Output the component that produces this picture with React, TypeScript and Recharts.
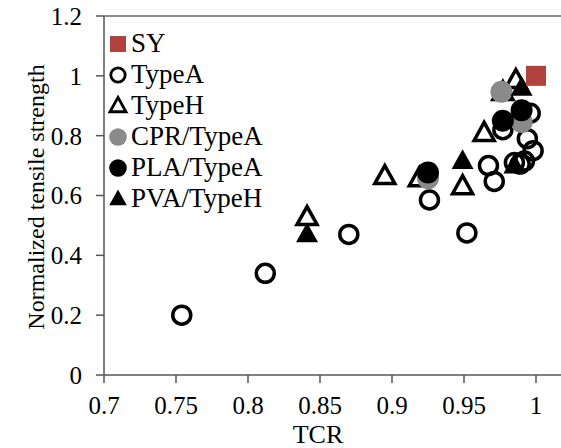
import { ScatterChart, Scatter, XAxis, YAxis, ReferenceLine, Legend } from "recharts"

const FONT = "'Liberation Serif', 'Times New Roman', serif"
const SY_RED = "#b3423f"
const CPR_GRAY = "#8a8a8a"
const AXIS = "#555555"

const xTicks = [0.7, 0.75, 0.8, 0.85, 0.9, 0.95, 1]
const yTicks = [0, 0.2, 0.4, 0.6, 0.8, 1, 1.2]

const typeA = [
  { tcr: 0.754, strength: 0.2 },
  { tcr: 0.812, strength: 0.34 },
  { tcr: 0.87, strength: 0.47 },
  { tcr: 0.926, strength: 0.585 },
  { tcr: 0.952, strength: 0.475 },
  { tcr: 0.967, strength: 0.7 },
  { tcr: 0.971, strength: 0.647 },
  { tcr: 0.977, strength: 0.82 },
  { tcr: 0.996, strength: 0.875 },
  { tcr: 0.994, strength: 0.79 },
  { tcr: 0.998, strength: 0.75 },
  { tcr: 0.992, strength: 0.715 },
  { tcr: 0.985, strength: 0.71 },
  { tcr: 0.989, strength: 0.705 },
]
const typeH = [
  { tcr: 0.841, strength: 0.527 },
  { tcr: 0.895, strength: 0.664 },
  { tcr: 0.919, strength: 0.657 },
  { tcr: 0.949, strength: 0.63 },
  { tcr: 0.964, strength: 0.808 },
  { tcr: 0.977, strength: 0.945 },
  { tcr: 0.986, strength: 0.985 },
]
const cprTypeA = [
  { tcr: 0.925, strength: 0.658 },
  { tcr: 0.976, strength: 0.947 },
  { tcr: 0.99, strength: 0.846 },
]
const plaTypeA = [
  { tcr: 0.925, strength: 0.677 },
  { tcr: 0.977, strength: 0.85 },
  { tcr: 0.99, strength: 0.885 },
]
const pvaTypeH = [
  { tcr: 0.841, strength: 0.47 },
  { tcr: 0.949, strength: 0.715 },
  { tcr: 0.99, strength: 0.96 },
  { tcr: 0.985, strength: 0.7 },
]
const sy = [{ tcr: 1.0, strength: 1.0 }]

const legendItems = [
  { name: "SY", kind: "square" },
  { name: "TypeA", kind: "openCircle" },
  { name: "TypeH", kind: "openTriangle" },
  { name: "CPR/TypeA", kind: "grayCircle" },
  { name: "PLA/TypeA", kind: "blackCircle" },
  { name: "PVA/TypeH", kind: "blackTriangle" },
]

function triPoints(cx: number, cy: number, s: number) {
  const h = s * 0.9
  return `${cx},${cy - h * 0.6} ${cx - s / 2},${cy + h * 0.4} ${cx + s / 2},${cy + h * 0.4}`
}

function Marker({ kind, cx, cy, scale = 1 }: { kind: string; cx: number; cy: number; scale?: number }) {
  switch (kind) {
    case "square":
      return <rect x={cx - 10 * scale} y={cy - 10 * scale} width={20 * scale} height={20 * scale} fill={SY_RED} />
    case "openCircle":
      return <circle cx={cx} cy={cy} r={9 * scale} fill="none" stroke="#000" strokeWidth={3.5 * scale} />
    case "openTriangle":
      return <polygon points={triPoints(cx, cy, 20 * scale)} fill="none" stroke="#000" strokeWidth={3.5 * scale} strokeLinejoin="miter" />
    case "grayCircle":
      return <circle cx={cx} cy={cy} r={11 * scale} fill={CPR_GRAY} />
    case "blackCircle":
      return <circle cx={cx} cy={cy} r={11 * scale} fill="#000" />
    case "blackTriangle":
      return <polygon points={triPoints(cx, cy, 22 * scale)} fill="#000" />
    default:
      return null
  }
}

const shapeOf = (kind: string) => (props: any) => <Marker kind={kind} cx={props.cx} cy={props.cy} />

function LegendBox() {
  return (
    <div style={{ fontFamily: FONT, fontSize: 27, color: "#000" }}>
      {legendItems.map((item) => (
        <div key={item.name} style={{ display: "flex", alignItems: "center", height: 31 }}>
          <svg width={24} height={24} style={{ marginRight: 1 }}>
            <Marker kind={item.kind} cx={12} cy={12} scale={0.8} />
          </svg>
          <span>{item.name}</span>
        </div>
      ))}
    </div>
  )
}

export default function App() {
  return (
    <div style={{ position: "absolute", left: 0, top: 0, width: 561, height: 448, overflow: "hidden", background: "#fff" }}>
      <ScatterChart width={608} height={448} margin={{ top: 16, right: 0, bottom: 0, left: 0 }}>
        <XAxis
          type="number"
          dataKey="tcr"
          domain={[0.7, 1.05]}
          ticks={xTicks}
          tickFormatter={(v: number) => String(v)}
          height={73}
          stroke={AXIS}
          strokeWidth={1.5}
          tickSize={8}
          tickMargin={13}
          tick={{ fill: "#000", fontSize: 25, fontFamily: FONT }}
          label={{
            content: () => (
              <text x={318} y={443} textAnchor="middle" fontSize={26} fontFamily={FONT} fill="#000">
                TCR
              </text>
            ),
          }}
        />
        <YAxis
          type="number"
          dataKey="strength"
          domain={[0, 1.2]}
          ticks={yTicks}
          tickFormatter={(v: number) => String(v)}
          width={104}
          stroke={AXIS}
          strokeWidth={1.5}
          tickSize={8}
          tickMargin={14}
          tick={{ fill: "#000", fontSize: 25, fontFamily: FONT }}
          label={{
            content: () => (
              <text
                x={36}
                y={197}
                transform="rotate(-90 36 197)"
                textAnchor="middle"
                dominantBaseline="central"
                fontSize={24}
                fontFamily={FONT}
                fill="#000"
              >
                Normalized tensile strength
              </text>
            ),
          }}
        />
        <ReferenceLine y={1.2} stroke="#666" strokeWidth={1.5} ifOverflow="visible" />
        <Legend
          layout="vertical"
          align="center"
          verticalAlign="middle"
          content={<LegendBox />}
          wrapperStyle={{ left: 106, top: 28, width: "auto" }}
        />
        <Scatter name="TypeA" data={typeA} shape={shapeOf("openCircle")} isAnimationActive={false} />
        <Scatter name="TypeH" data={typeH} shape={shapeOf("openTriangle")} isAnimationActive={false} />
        <Scatter name="CPR/TypeA" data={cprTypeA} shape={shapeOf("grayCircle")} isAnimationActive={false} />
        <Scatter name="PLA/TypeA" data={plaTypeA} shape={shapeOf("blackCircle")} isAnimationActive={false} />
        <Scatter name="PVA/TypeH" data={pvaTypeH} shape={shapeOf("blackTriangle")} isAnimationActive={false} />
        <Scatter name="SY" data={sy} shape={shapeOf("square")} isAnimationActive={false} />
      </ScatterChart>
    </div>
  )
}
